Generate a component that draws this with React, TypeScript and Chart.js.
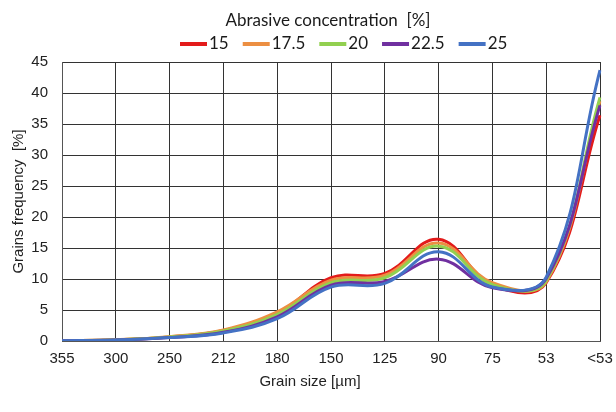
import React, { useEffect, useRef } from "react";
import { Chart, registerables } from "chart.js";

Chart.register(...registerables);

const categories = ["355", "300", "250", "212", "180", "150", "125", "90", "75", "53", "<53"];
const seriesLabels = ["15", "17.5", "20", "22.5", "25"];
const seriesColors = ["#E31B1B", "#EC8F42", "#92D050", "#7030A0", "#4472C4"];
const c15 = [0.05, 0.2, 0.65, 1.7, 4.4, 10.2, 10.9, 16.4, 9.0, 9.4, 36.4];
const c17_5 = [0.05, 0.2, 0.7, 1.8, 4.7, 9.8, 10.6, 15.8, 9.4, 9.5, 38.7];
const c20 = [0.05, 0.2, 0.65, 1.6, 4.3, 9.4, 10.2, 15.3, 9.1, 9.7, 39.3];
const c22_5 = [0.05, 0.15, 0.55, 1.4, 3.9, 9.0, 9.6, 13.2, 8.6, 10.1, 38.0];
const c25 = [0.05, 0.15, 0.55, 1.3, 3.6, 8.7, 9.3, 14.4, 8.7, 10.3, 43.7];
const seriesValues = [c15, c17_5, c20, c22_5, c25];
const yTicks = [0, 5, 10, 15, 20, 25, 30, 35, 40, 45];

const legendTitle = "Abrasive concentration  [%]";
const yTitle = "Grains frequency  [%]";
const xTitle = "Grain size [\u00b5m]";

const annotatePlugin = {
  id: "annotate",
  afterDraw(chart: any) {
    const ctx = chart.ctx as CanvasRenderingContext2D;
    const area = chart.chartArea;
    ctx.save();
    // legend title
    ctx.fillStyle = "#1a1a1a";
    ctx.textBaseline = "middle";
    ctx.textAlign = "center";
    ctx.font = "17px Lato";
    ctx.fillText(legendTitle, 328, 21);
    // legend items
    ctx.textAlign = "left";
    let x = 180;
    const ly = 44;
    chart.data.datasets.forEach((ds: any) => {
      ctx.strokeStyle = ds.borderColor;
      ctx.lineWidth = 4;
      ctx.beginPath();
      ctx.moveTo(x, ly);
      ctx.lineTo(x + 27, ly);
      ctx.stroke();
      ctx.fillStyle = "#1a1a1a";
      ctx.fillText(ds.label, x + 29, ly);
      x += 29 + ctx.measureText(ds.label).width + 14;
    });
    // axis titles
    ctx.font = "15px 'Liberation Sans'";
    ctx.fillStyle = "#222";
    ctx.textAlign = "center";
    ctx.fillText(xTitle, 310, 382);
    ctx.translate(19, (area.top + area.bottom) / 2);
    ctx.rotate(-Math.PI / 2);
    ctx.fillText(yTitle, 0, 0);
    ctx.restore();
  },
};

export default function App() {
  const ref = useRef<HTMLCanvasElement>(null);
  useEffect(() => {
    document.body.style.margin = "0";
    const canvas = ref.current;
    if (!canvas) return;
    const chart = new Chart(canvas, {
      type: "line",
      data: {
        labels: categories,
        datasets: seriesValues.map((vals, i) => ({
          label: seriesLabels[i],
          data: vals,
          borderColor: seriesColors[i],
          backgroundColor: seriesColors[i],
          borderWidth: 3,
          pointRadius: 0,
          tension: 0.4,
          fill: false,
          order: seriesValues.length - 1 - i,
        })),
      },
      options: {
        responsive: false,
        animation: false,
        layout: { padding: { top: 62, right: 16, left: 0, bottom: 0 } },
        plugins: {
          legend: { display: false },
          tooltip: { enabled: false },
          title: { display: false },
        },
        scales: {
          x: {
            type: "category",
            offset: false,
            grid: { color: "#333", lineWidth: 1, drawTicks: false },
            border: { color: "#555", width: 1 },
            ticks: {
              color: "#222",
              font: { family: "'Liberation Sans'", size: 15 },
              padding: 9,
              maxRotation: 0,
              autoSkip: false,
            },
            afterFit(scale: any) {
              scale.height = 71;
              scale.paddingRight = 0;
              scale.paddingLeft = 0;
            },
          },
          y: {
            min: 0,
            max: 45,
            afterBuildTicks(scale: any) {
              scale.ticks = yTicks.map((v) => ({ value: v }));
            },
            grid: { color: "#333", lineWidth: 1, drawTicks: false },
            border: { color: "#555", width: 1 },
            ticks: {
              color: "#222",
              font: { family: "'Liberation Sans'", size: 15 },
              padding: 14,
            },
            afterFit(scale: any) {
              scale.width = 62;
              scale.paddingTop = 0;
              scale.paddingBottom = 0;
            },
          },
        },
      },
      plugins: [annotatePlugin],
    });
    return () => chart.destroy();
  }, []);
  return (
    <div style={{ width: 616, height: 412 }}>
      <canvas ref={ref} width={616} height={412} />
    </div>
  );
}
